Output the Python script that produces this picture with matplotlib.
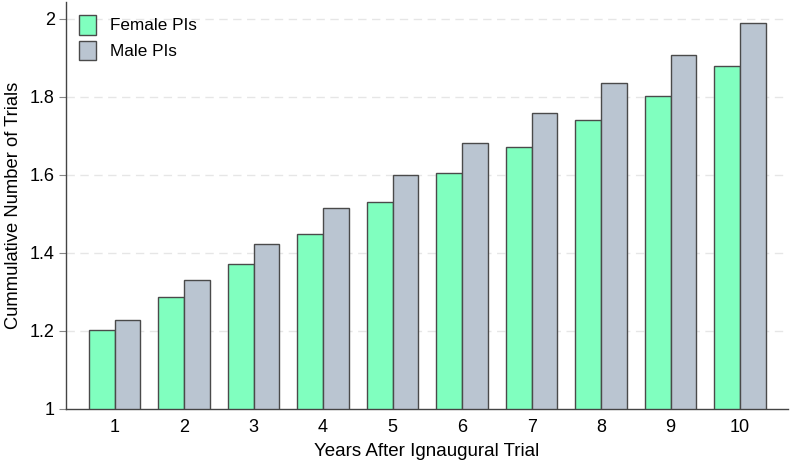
import numpy as np
import matplotlib
matplotlib.use("Agg")
import matplotlib.pyplot as plt

plt.rcParams['font.family'] = ['Liberation Sans', 'DejaVu Sans']

years = [1, 2, 3, 4, 5, 6, 7, 8, 9, 10]
female = [1.202, 1.287, 1.371, 1.449, 1.531, 1.605, 1.672, 1.741, 1.803, 1.879]
male = [1.228, 1.331, 1.423, 1.516, 1.600, 1.682, 1.759, 1.836, 1.908, 1.990]
yticks = [1, 1.2, 1.4, 1.6, 1.8, 2]
ytick_labels = ['1', '1.2', '1.4', '1.6', '1.8', '2']

fig = plt.figure(figsize=(7.9, 4.61), dpi=100)
ax = fig.add_axes([0.0835, 0.113, 0.914, 0.883])

x = np.array(years)
w = 0.37
ax.bar(x - w / 2, np.array(female) - 1, w, bottom=1, color='#80FFBF',
       edgecolor='#4a4a4a', linewidth=1.0, label='Female PIs', zorder=3)
ax.bar(x + w / 2, np.array(male) - 1, w, bottom=1, color='#BAC5D1',
       edgecolor='#4a4a4a', linewidth=1.0, label='Male PIs', zorder=3)

ax.set_xlim(0.3, 10.69)
ax.set_ylim(1, 2.044)
ax.set_xticks(years)
ax.set_yticks(yticks)
ax.set_yticklabels(ytick_labels)
ax.tick_params(axis='x', length=0, labelsize=13, pad=7)
ax.tick_params(axis='y', length=5, color='#888888', labelsize=13, pad=3)
for y in yticks[1:]:
    ax.axhline(y, color='#e6e6e6', linestyle=(0, (6, 4)), linewidth=1, zorder=0)

for s in ['top', 'right']:
    ax.spines[s].set_visible(False)
for s in ['left', 'bottom']:
    ax.spines[s].set_color('#444444')
    ax.spines[s].set_linewidth(1)

ax.set_xlabel('Years After Ignaugural Trial', fontsize=13.5, labelpad=5)
ax.set_ylabel('Cummulative Number of Trials', fontsize=13.2, labelpad=6)

ax.legend(loc='upper left', frameon=False, fontsize=12.3, handlelength=1.0,
          handleheight=1.4, borderaxespad=0.2, bbox_to_anchor=(0.004, 0.993),
          labelspacing=0.35, handletextpad=0.8)

fig.savefig('out.png', dpi=100)
